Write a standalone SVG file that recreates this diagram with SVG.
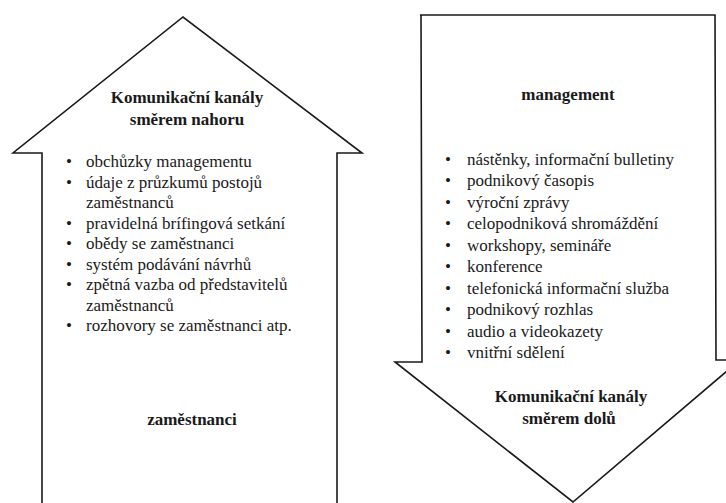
<svg xmlns="http://www.w3.org/2000/svg" width="726" height="503" viewBox="0 0 726 503">
<style>
.shape{fill:#fff;stroke:#1a1a1a;stroke-width:1.6;stroke-linejoin:miter}
.t{font-family:'Liberation Serif','DejaVu Serif',serif;font-size:17px;fill:#1a1a1a}
.b{font-family:'Liberation Serif','DejaVu Serif',serif;font-size:17px;font-weight:bold;fill:#1a1a1a;text-anchor:middle}
</style>
<rect width="726" height="503" fill="#fff"/>
<g id="up-arrow">
<path class="shape" d="M42,510 L42,153 L13,153 L183,17 L362,153 L337,153 L337,510"/>
<text class="b" x="187" y="103">Komunikační kanály</text>
<text class="b" x="187" y="125">směrem nahoru</text>
<text class="t" x="66" y="167">•</text><text class="t" x="86" y="167">obchůzky managementu</text>
<text class="t" x="66" y="187.5">•</text><text class="t" x="86" y="187.5">údaje z průzkumů postojů</text>
<text class="t" x="86" y="208">zaměstnanců</text>
<text class="t" x="66" y="228.5">•</text><text class="t" x="86" y="228.5">pravidelná brífingová setkání</text>
<text class="t" x="66" y="249">•</text><text class="t" x="86" y="249">obědy se zaměstnanci</text>
<text class="t" x="66" y="269.5">•</text><text class="t" x="86" y="269.5">systém podávání návrhů</text>
<text class="t" x="66" y="290">•</text><text class="t" x="86" y="290">zpětná vazba od představitelů</text>
<text class="t" x="86" y="310.5">zaměstnanců</text>
<text class="t" x="66" y="331">•</text><text class="t" x="86" y="331">rozhovory se zaměstnanci atp.</text>
<text class="b" x="192" y="425">zaměstnanci</text>
</g>
<g id="down-arrow">
<path class="shape" d="M420,15 L715,15 L716,360 L740,360 L573,502 L395,362 L422,362 L421,15 Z"/>
<text class="b" x="568" y="100">management</text>
<text class="t" x="445" y="164.5">•</text><text class="t" x="467" y="164.5">nástěnky, informační bulletiny</text>
<text class="t" x="445" y="186">•</text><text class="t" x="467" y="186">podnikový časopis</text>
<text class="t" x="445" y="207.5">•</text><text class="t" x="467" y="207.5">výroční zprávy</text>
<text class="t" x="445" y="229">•</text><text class="t" x="467" y="229">celopodniková shromáždění</text>
<text class="t" x="445" y="250.5">•</text><text class="t" x="467" y="250.5">workshopy, semináře</text>
<text class="t" x="445" y="272">•</text><text class="t" x="467" y="272">konference</text>
<text class="t" x="445" y="293.5">•</text><text class="t" x="467" y="293.5">telefonická informační služba</text>
<text class="t" x="445" y="315">•</text><text class="t" x="467" y="315">podnikový rozhlas</text>
<text class="t" x="445" y="336.5">•</text><text class="t" x="467" y="336.5">audio a videokazety</text>
<text class="t" x="445" y="358">•</text><text class="t" x="467" y="358">vnitřní sdělení</text>
<text class="b" x="571" y="402">Komunikační kanály</text>
<text class="b" x="569" y="424">směrem dolů</text>
</g>
<g id="connectors"/>
</svg>
